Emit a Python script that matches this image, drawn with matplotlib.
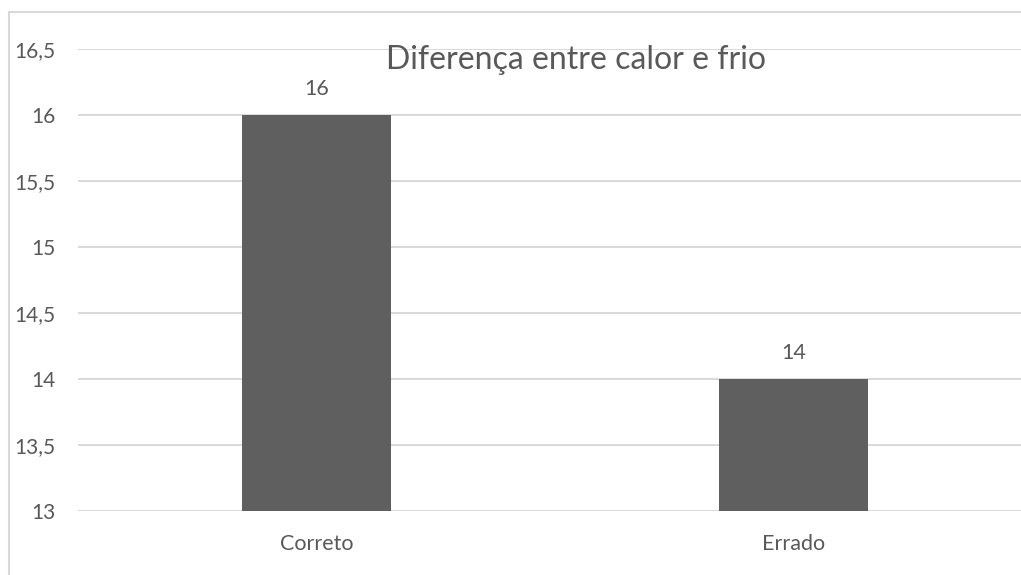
import matplotlib.pyplot as plt
from matplotlib.patches import Rectangle

categorias = ['Correto', 'Errado']
valores = [16, 14]
rotulos_y = ['13', '13,5', '14', '14,5', '15', '15,5', '16', '16,5']
ticks_y = [13, 13.5, 14, 14.5, 15, 15.5, 16, 16.5]
titulo = 'Diferença entre calor e frio'

cor_texto = '#595959'
cor_barra = '#5f5f5f'
cor_grade = '#d9d9d9'

plt.rcParams['font.family'] = ['Lato', 'DejaVu Sans']

fig = plt.figure(figsize=(10.21, 5.75), dpi=100)
ax = fig.add_axes([78 / 1021, 64 / 575, 954 / 1021, 462 / 575])

x = list(range(len(categorias)))
barras = ax.bar(x, valores, width=0.3125, color=cor_barra, zorder=3)

ax.set_xlim(-0.5, 1.5)
ax.set_ylim(13, 16.5)
ax.set_yticks(ticks_y)
ax.set_yticklabels(rotulos_y)
ax.set_xticks(x)
ax.set_xticklabels(categorias)

ax.tick_params(axis='y', length=0, pad=16.5, labelsize=15, labelcolor=cor_texto)
ax.tick_params(axis='x', length=0, pad=16.5, labelsize=15.5, labelcolor=cor_texto)
ax.grid(axis='y', color=cor_grade, linewidth=1.4, zorder=0)
for lado in ax.spines.values():
    lado.set_visible(False)

for b, v in zip(barras, valores):
    ax.annotate(str(v), (b.get_x() + b.get_width() / 2, v), xytext=(0, 18.5),
                textcoords='offset points', ha='center', va='center',
                fontsize=15.5, color=cor_texto)

fig.text(576 / 1021, 1 - 60 / 575, titulo, ha='center', va='center',
         fontsize=23, color=cor_texto)

# borda da area do grafico (cortada a direita e embaixo)
fig.patches.append(Rectangle((9 / 1021, -0.1), 1.2, 1.1 - 12 / 575,
                             transform=fig.transFigure, fill=False,
                             edgecolor=cor_grade, linewidth=1.5))

fig.savefig('out.png', dpi=100)
